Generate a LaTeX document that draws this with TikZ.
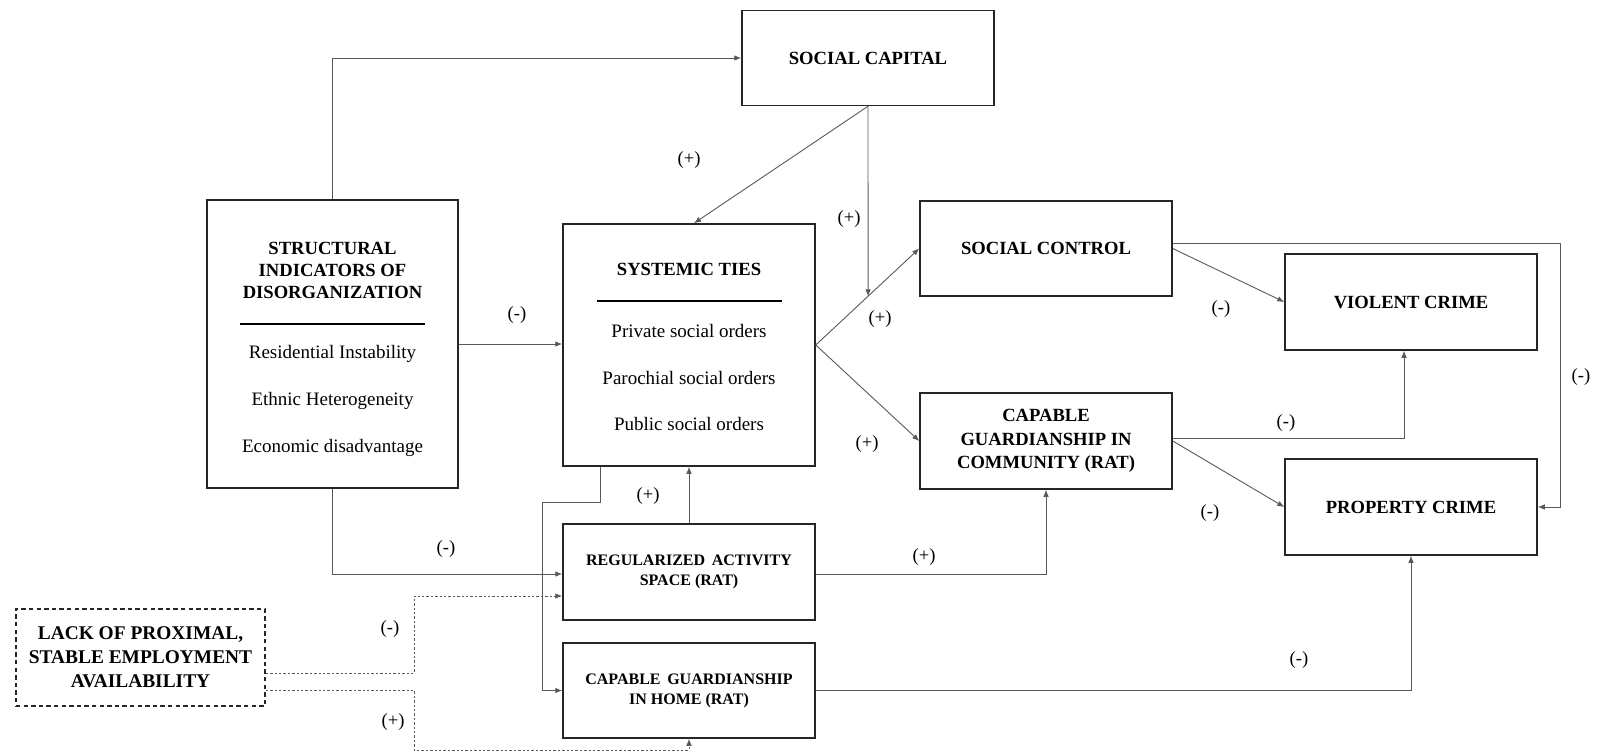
\documentclass[tikz,border=0pt]{standalone}
\usepackage{fontspec}
\setmainfont{Liberation Serif}
\usetikzlibrary{arrows.meta,calc}
\newcommand{\fhdr}{\fontsize{9.3}{11}\selectfont\bfseries}
\newcommand{\fbody}{\fontsize{9.5}{11}\selectfont}
\newcommand{\fsmall}{\fontsize{8}{10}\selectfont\bfseries}
\newcommand{\flack}{\fontsize{9.7}{12}\selectfont\bfseries}
\newcommand{\flab}{\fontsize{9.3}{11}\selectfont}
\begin{document}
\begin{tikzpicture}[x=0.5pt,y=-0.5pt,
  box/.style={draw=black!85,line width=0.75pt,rectangle,inner sep=0pt,align=center,font=\fhdr},
  txt/.style={inner sep=0pt,align=center},
  conn/.style={draw=black!65,line width=0.45pt,-{Latex[length=3.5pt,width=2.8pt]}},
  dconn/.style={conn,dash pattern=on 1.2pt off 1pt},
  lab/.style={inner sep=0pt,font=\flab}]
\useasboundingbox (0,0) rectangle (1598,753);

% boxes
\node[box,minimum width=126pt,minimum height=47.5pt] (SC) at (868,58) {SOCIAL CAPITAL};
\node[box,minimum width=125.5pt,minimum height=144pt] (STR) at (332.5,344) {};
\node[txt,font=\fhdr] (STRt) at (332.5,270) {STRUCTURAL\\INDICATORS OF\\DISORGANIZATION};
\node[txt,font=\fbody] (STR1) at (332.5,354) {Residential Instability};
\node[txt,font=\fbody] (STR2) at (332.5,401) {Ethnic Heterogeneity};
\node[txt,font=\fbody] (STR3) at (332.5,448) {Economic disadvantage};
\draw[line width=0.6pt] (240,324) -- (425,324);

\node[box,minimum width=126pt,minimum height=121pt] (SYS) at (689,345) {};
\node[txt,font=\fhdr] (SYSt) at (689,269) {SYSTEMIC TIES};
\node[txt,font=\fbody] (SYS1) at (689,331) {Private social orders};
\node[txt,font=\fbody] (SYS2) at (689,378) {Parochial social orders};
\node[txt,font=\fbody] (SYS3) at (689,424) {Public social orders};
\draw[line width=0.6pt] (597,301) -- (782,301);

\node[box,minimum width=126pt,minimum height=47.5pt] (SCTL) at (1046,248.5) {SOCIAL CONTROL};
\node[box,minimum width=126pt,minimum height=48pt] (VIO) at (1411,302) {VIOLENT CRIME};
\node[box,minimum width=126pt,minimum height=48pt,font=\fontsize{9.3}{11.75}\selectfont\bfseries] (CGIC) at (1046,441) {CAPABLE\\GUARDIANSHIP IN\\COMMUNITY (RAT)};
\node[box,minimum width=126pt,minimum height=48pt] (PROP) at (1411,507) {PROPERTY CRIME};
\node[box,minimum width=126pt,minimum height=48pt,font=\fsmall] (REG) at (689,572) {REGULARIZED\, ACTIVITY\\SPACE (RAT)};
\node[box,minimum width=126pt,minimum height=47.5pt,font=\fsmall] (CGH) at (689,690.5) {CAPABLE\, GUARDIANSHIP\\IN HOME (RAT)};
\node[box,minimum width=124.5pt,minimum height=48.5pt,font=\flack,dash pattern=on 2.2pt off 1.6pt] (LACK) at (140.5,657.5) {LACK OF PROXIMAL,\\STABLE EMPLOYMENT\\AVAILABILITY};

% coordinates
\coordinate (J) at (intersection of SYS.east--SCTL.west and SC.south--SC.north);
\coordinate (T1) at (542,502);
\coordinate (T2) at (414,596);
\coordinate (T3) at (414,750);

% connectors
\draw[conn] (STR.north) |- (SC.west);
\draw[conn] (SC.south) -- ($(SYS.north)+(5,0)$);
\draw[conn] (SC.south) -- (J);
\draw[conn] (SYS.east) -- (SCTL.west);
\draw[conn] (SYS.east) -- (CGIC.west);
\draw[conn] (SCTL.east) -- (VIO.west);
\draw[conn] ($(SCTL.east)+(0,-5.5)$) -- ++(388,0) |- (PROP.east);
\draw[conn] ($(CGIC.east)+(0,-3)$) -| ($(VIO.south)+(-7,0)$);
\draw[conn] (CGIC.east) -- (PROP.west);
\draw[conn] (STR.east) -- (STR.east -| SYS.west);
\draw[conn] (STR.south) |- ($(REG.west)+(0,2)$);
\draw[conn] (REG.north) -- (SYS.south);
\draw[conn] ($(SYS.south west)+(38,0)$) |- (T1) |- (CGH.west);
\draw[conn] ($(REG.east)+(0,2)$) -| (CGIC.south);
\draw[conn] (CGH.east) -| (PROP.south);
\draw[dconn] ($(LACK.east)+(0,15.5)$) -| (T2) -- ($(REG.west)+(0,24)$);
\draw[dconn] ($(LACK.east)+(0,32.5)$) -| (T3) -| (CGH.south);

% labels
\node[lab] (L1) at (689,160) {(+)};
\node[lab] (L2) at (849,219) {(+)};
\node[lab] (L3) at (880,319) {(+)};
\node[lab] (L4) at (867,444) {(+)};
\node[lab] (L5) at (1221,309) {(-)};
\node[lab] (L6) at (1581,377) {(-)};
\node[lab] (L7) at (1286,423) {(-)};
\node[lab] (L8) at (1210,513) {(-)};
\node[lab] (L9) at (517,315) {(-)};
\node[lab] (L10) at (446,549) {(-)};
\node[lab] (L11) at (648,496) {(+)};
\node[lab] (L12) at (924,557) {(+)};
\node[lab] (L13) at (1299,660) {(-)};
\node[lab] (L14) at (390,629) {(-)};
\node[lab] (L15) at (393,722) {(+)};
\end{tikzpicture}
\end{document}
